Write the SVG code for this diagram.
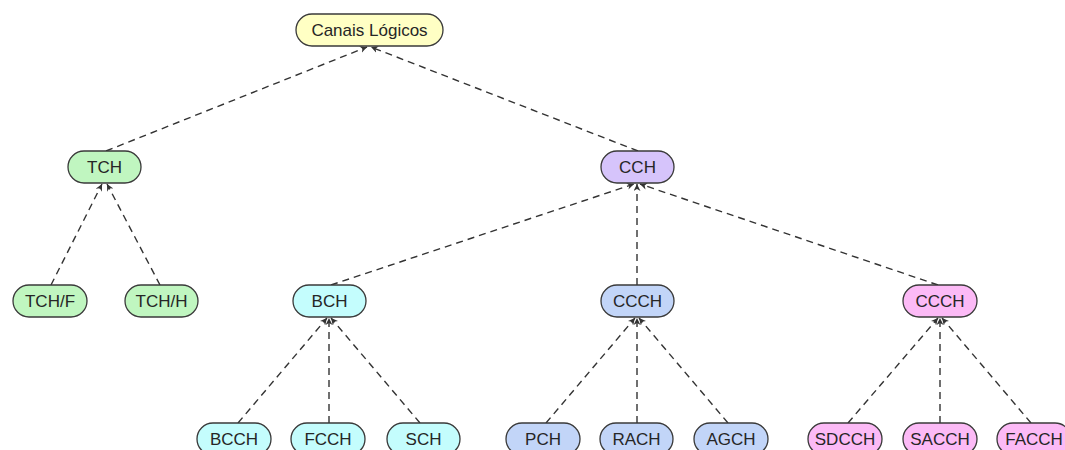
<svg xmlns="http://www.w3.org/2000/svg" width="1065" height="450" viewBox="0 0 1065 450">
  <defs>
    <style>
      .node rect { stroke: #3a3a3a; stroke-width: 1.3; }
      .node text { font-family: "Liberation Sans", Arial, sans-serif; font-size: 17px; fill: #262626; text-anchor: middle; dominant-baseline: central; }
      .root rect { fill: #ffffc4; }
      .tch rect { fill: #c0f6c0; }
      .cch rect { fill: #d6c4fb; }
      .bch rect { fill: #c4fdfd; }
      .ccch rect { fill: #c2d5f8; }
      .dcch rect { fill: #fcbaf6; }
      #connectors line { stroke: #333; stroke-width: 1.4; stroke-dasharray: 7 5; marker-end: url(#arrow); }
    </style>
    <marker id="arrow" viewBox="0 0 10 10" refX="10" refY="5" markerWidth="7" markerHeight="7" markerUnits="userSpaceOnUse" orient="auto">
      <path d="M0,0 L10,5 L0,10 L3,5 Z" fill="#333"/>
    </marker>
  </defs>
  <rect width="1065" height="450" fill="#ffffff"/>

  <g id="connectors">
    <!-- level 1 -> root -->
    <line x1="106" y1="151" x2="367" y2="47"/>
    <line x1="638" y1="151" x2="371" y2="47"/>
    <!-- TCH children -->
    <line x1="51" y1="285" x2="102" y2="184"/>
    <line x1="160" y1="285" x2="107" y2="184"/>
    <!-- CCH children -->
    <line x1="331" y1="285" x2="634" y2="184"/>
    <line x1="637" y1="285" x2="637" y2="184"/>
    <line x1="938" y1="285" x2="640" y2="184"/>
    <!-- BCH children -->
    <line x1="238" y1="423" x2="327" y2="318"/>
    <line x1="329" y1="423" x2="329" y2="318"/>
    <line x1="420" y1="423" x2="331" y2="318"/>
    <!-- CCCH children -->
    <line x1="546" y1="423" x2="635" y2="318"/>
    <line x1="637" y1="423" x2="637" y2="318"/>
    <line x1="728" y1="423" x2="639" y2="318"/>
    <!-- CCCH (dedicated) children -->
    <line x1="848" y1="423" x2="938" y2="318"/>
    <line x1="940" y1="423" x2="940" y2="318"/>
    <line x1="1031" y1="423" x2="942" y2="318"/>
  </g>

  <g id="canais-logicos" class="node root"><rect x="296" y="14" width="147" height="32" rx="16"/><text x="369.5" y="30">Canais Lógicos</text></g>

  <g id="tch" class="node tch"><rect x="68" y="151" width="73" height="32" rx="16"/><text x="104.5" y="167">TCH</text></g>
  <g id="cch" class="node cch"><rect x="601" y="151" width="73" height="32" rx="16"/><text x="637.5" y="167">CCH</text></g>

  <g id="tch-f" class="node tch"><rect x="13" y="285" width="74" height="32" rx="16"/><text x="50" y="301">TCH/F</text></g>
  <g id="tch-h" class="node tch"><rect x="125" y="285" width="73" height="32" rx="16"/><text x="161.5" y="301">TCH/H</text></g>
  <g id="bch" class="node bch"><rect x="293" y="285" width="73" height="32" rx="16"/><text x="329.5" y="301">BCH</text></g>
  <g id="ccch" class="node ccch"><rect x="601" y="285" width="73" height="32" rx="16"/><text x="637.5" y="301">CCCH</text></g>
  <g id="ccch-dedicated" class="node dcch"><rect x="903" y="285" width="74" height="32" rx="16"/><text x="940" y="301">CCCH</text></g>

  <g id="bcch" class="node bch"><rect x="197" y="423" width="74" height="32" rx="16"/><text x="234" y="439">BCCH</text></g>
  <g id="fcch" class="node bch"><rect x="291" y="423" width="74" height="32" rx="16"/><text x="328" y="439">FCCH</text></g>
  <g id="sch" class="node bch"><rect x="387" y="423" width="73" height="32" rx="16"/><text x="423.5" y="439">SCH</text></g>
  <g id="pch" class="node ccch"><rect x="506" y="423" width="74" height="32" rx="16"/><text x="543" y="439">PCH</text></g>
  <g id="rach" class="node ccch"><rect x="600" y="423" width="73" height="32" rx="16"/><text x="636.5" y="439">RACH</text></g>
  <g id="agch" class="node ccch"><rect x="694" y="423" width="74" height="32" rx="16"/><text x="731" y="439">AGCH</text></g>
  <g id="sdcch" class="node dcch"><rect x="808" y="423" width="74" height="32" rx="16"/><text x="845" y="439">SDCCH</text></g>
  <g id="sacch" class="node dcch"><rect x="903" y="423" width="74" height="32" rx="16"/><text x="940" y="439">SACCH</text></g>
  <g id="facch" class="node dcch"><rect x="997" y="423" width="74" height="32" rx="16"/><text x="1034" y="439">FACCH</text></g>
</svg>
